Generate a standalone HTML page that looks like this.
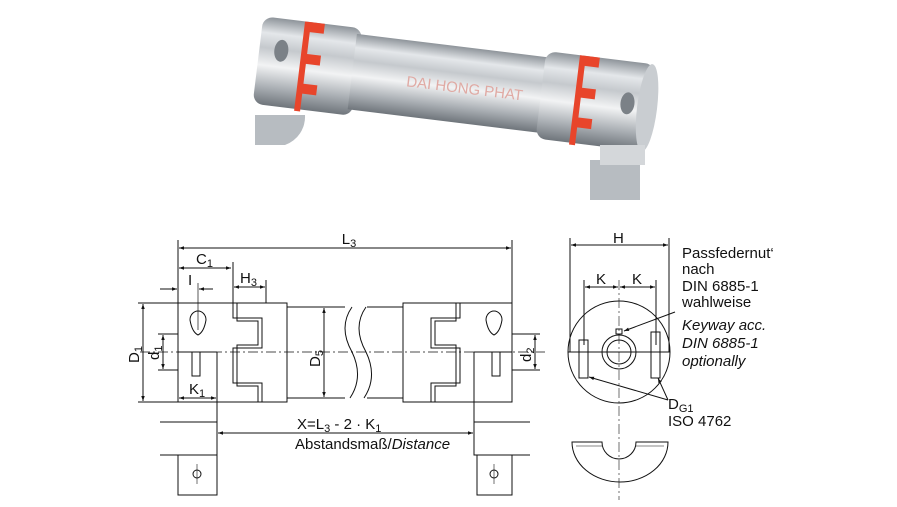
<!DOCTYPE html>
<html><head><meta charset="utf-8"><style>
html,body{margin:0;padding:0;background:#fff;}
svg{display:block;}
text{font-family:"Liberation Sans",sans-serif;fill:#111;}
</style></head><body>
<svg width="897" height="507" viewBox="0 0 897 507" xmlns="http://www.w3.org/2000/svg">
<defs>
<linearGradient id="met" x1="0" y1="0" x2="0" y2="1">
<stop offset="0" stop-color="#8e949a"/><stop offset="0.18" stop-color="#e4e7ea"/><stop offset="0.35" stop-color="#c5c9cd"/><stop offset="0.55" stop-color="#f2f3f4"/><stop offset="0.8" stop-color="#a9aeb3"/><stop offset="1" stop-color="#6f757b"/>
</linearGradient>
<marker id="a" viewBox="0 0 10 10" refX="10" refY="5" markerWidth="7" markerHeight="5" orient="auto-start-reverse"><path d="M0,1.5 L10,5 L0,8.5z" fill="#111"/></marker>
</defs>

<!-- photo -->
<g transform="translate(258,60) rotate(7)">
<rect x="0" y="-44" width="100" height="88" rx="10" fill="url(#met)"/>
<rect x="95" y="-38" width="200" height="76" fill="url(#met)"/>
<rect x="285" y="-44" width="110" height="88" rx="10" fill="url(#met)"/>
<ellipse cx="392" cy="0" rx="10" ry="44" fill="#c9cdd1"/>
<ellipse cx="22" cy="-12" rx="7" ry="11" fill="#7b8187"/>
<ellipse cx="372" cy="-2" rx="7" ry="11" fill="#7b8187"/>
<path d="M48,-44 h14 v10 h-14 v22 h14 v10 h-14 v20 h14 v10 h-14 v18 h-6 v-90z" fill="#e8452b"/>
<path d="M325,-44 h14 v10 h-14 v22 h14 v10 h-14 v20 h14 v10 h-14 v18 h-6 v-90z" fill="#e8452b"/>
<text x="150" y="8" font-size="15" style="fill:#e0aaa4">DAI HONG PHAT</text>
</g>
<path d="M255,115 h50 a30,30 0 0 1 -20,30 h-30z" fill="#b7bcc1"/>
<path d="M590,160 h50 v40 h-50z" fill="#b7bcc1"/>
<rect x="600" y="145" width="45" height="20" fill="#d4d7da"/>

<g fill="none" stroke="#111" stroke-width="1">
<rect x="178" y="303" width="109" height="99"/>
<rect x="403" y="303" width="109" height="99"/>
<line x1="287" y1="307" x2="345" y2="307"/><line x1="287" y1="398" x2="345" y2="398"/>
<line x1="367" y1="307" x2="403" y2="307"/><line x1="367" y1="398" x2="403" y2="398"/>
<path d="M352,307 q-14,20 0,45 q12,25 -2,46"/>
<path d="M366,307 q-14,20 0,45 q12,25 -2,46"/>
<path d="M233,303 v15 h29 v30 h-29 v35 h29 v19"/>
<path d="M237,303 v18 h21 v24 h-21 v41 h21 v16"/>
<path d="M460,303 v15 h-29 v30 h29 v35 h-29 v19"/>
<path d="M456,303 v18 h-21 v24 h21 v41 h-21 v16"/>
<path d="M190,320 a8,9 0 0 1 16,0 q-2,12 -8,15 q-6,-3 -8,-15z"/>
<path d="M486,320 a8,9 0 0 1 16,0 q-2,12 -8,15 q-6,-3 -8,-15z"/>
<rect x="192" y="352" width="8" height="24"/><rect x="492" y="352" width="8" height="24"/>
<line x1="178" y1="352" x2="217" y2="352"/><line x1="217" y1="352" x2="217" y2="402"/>
<line x1="474" y1="352" x2="512" y2="352"/><line x1="474" y1="352" x2="474" y2="402"/>
<line x1="140" y1="352" x2="545" y2="352" stroke-dasharray="10,3,2,3" stroke-width="0.7"/>
<line x1="178" y1="240" x2="178" y2="303"/><line x1="512" y1="240" x2="512" y2="303"/>
<line x1="179" y1="248" x2="511" y2="248" marker-start="url(#a)" marker-end="url(#a)"/>
<line x1="179" y1="268" x2="231" y2="268" marker-start="url(#a)" marker-end="url(#a)"/>
<line x1="233" y1="262" x2="233" y2="303"/><line x1="266" y1="280" x2="266" y2="303"/>
<line x1="234" y1="287" x2="265" y2="287" marker-start="url(#a)" marker-end="url(#a)"/>
<line x1="160" y1="289" x2="177" y2="289" marker-end="url(#a)"/><line x1="199" y1="289" x2="213" y2="289" marker-start="url(#a)"/>
<line x1="198" y1="283" x2="198" y2="330" stroke-width="0.7"/>
<line x1="138" y1="303" x2="178" y2="303"/><line x1="138" y1="402" x2="178" y2="402"/>
<line x1="143" y1="304" x2="143" y2="401" marker-start="url(#a)" marker-end="url(#a)"/>
<line x1="158" y1="334" x2="178" y2="334"/><line x1="158" y1="370" x2="178" y2="370"/>
<line x1="163" y1="335" x2="163" y2="369" marker-start="url(#a)" marker-end="url(#a)"/>
<line x1="179" y1="398" x2="216" y2="398" marker-start="url(#a)" marker-end="url(#a)"/>
<line x1="324" y1="308" x2="324" y2="397" marker-start="url(#a)" marker-end="url(#a)"/>
<line x1="512" y1="334" x2="540" y2="334"/><line x1="512" y1="370" x2="540" y2="370"/>
<line x1="535" y1="335" x2="535" y2="369" marker-start="url(#a)" marker-end="url(#a)"/>
<line x1="217" y1="402" x2="217" y2="445"/><line x1="474" y1="402" x2="474" y2="445"/>
<line x1="218" y1="433" x2="473" y2="433" marker-start="url(#a)" marker-end="url(#a)"/>
<path d="M160,422 h57 v33 h-57"/><rect x="178" y="455" width="39" height="40"/>
<circle cx="197" cy="474" r="4"/><line x1="197" y1="464" x2="197" y2="484" stroke-width="0.6"/>
<path d="M530,422 h-56 v33 h56"/><rect x="477" y="455" width="35" height="40"/>
<circle cx="494" cy="474" r="4"/><line x1="494" y1="464" x2="494" y2="484" stroke-width="0.6"/>
<circle cx="619" cy="352" r="51"/>
<circle cx="619" cy="352" r="17"/><circle cx="619" cy="352" r="12"/>
<line x1="568" y1="352" x2="670" y2="352"/>
<line x1="619" y1="280" x2="619" y2="500" stroke-dasharray="10,3,2,3" stroke-width="0.6"/>
<line x1="570" y1="238" x2="570" y2="352"/><line x1="669" y1="238" x2="669" y2="352"/>
<line x1="571" y1="245" x2="668" y2="245" marker-start="url(#a)" marker-end="url(#a)"/>
<line x1="584" y1="280" x2="584" y2="345"/><line x1="656" y1="280" x2="656" y2="345"/>
<line x1="585" y1="287" x2="618" y2="287" marker-start="url(#a)" marker-end="url(#a)"/>
<line x1="620" y1="287" x2="655" y2="287" marker-start="url(#a)" marker-end="url(#a)"/>
<rect x="579" y="340" width="9" height="38"/><rect x="651" y="332" width="9" height="46"/>
<rect x="616" y="329" width="6" height="5"/>
<line x1="675" y1="312" x2="624" y2="331" marker-end="url(#a)"/>
<line x1="668" y1="400" x2="589" y2="377" marker-end="url(#a)"/>
<line x1="668" y1="400" x2="658" y2="378" marker-end="url(#a)"/>
<path d="M572,442 h30 a17,17 0 0 0 34,0 h32 a48,40 0 0 1 -96,0z"/>
<path d="M576,446 h26 M636,446 h28" stroke-width="0.6"/>
</g>
<g font-size="15">
<text x="349" y="244" text-anchor="middle">L<tspan font-size="11" dy="3">3</tspan></text>
<text x="196" y="264">C<tspan font-size="11" dy="3">1</tspan></text>
<text x="240" y="283">H<tspan font-size="11" dy="3">3</tspan></text>
<text x="188" y="285">I</text>
<text x="189" y="394">K<tspan font-size="11" dy="3">1</tspan></text>
<text transform="translate(139,363) rotate(-90)">D<tspan font-size="11" dy="3">1</tspan></text>
<text transform="translate(159,360) rotate(-90)">d<tspan font-size="11" dy="3">1</tspan></text>
<text transform="translate(320,367) rotate(-90)">D<tspan font-size="11" dy="3">5</tspan></text>
<text transform="translate(531,362) rotate(-90)">d<tspan font-size="11" dy="3">2</tspan></text>
<text x="297" y="429">X=L<tspan font-size="11" dy="3">3</tspan><tspan dy="-3"> - 2 · K</tspan><tspan font-size="11" dy="3">1</tspan></text>
<text x="295" y="449">Abstandsmaß/<tspan font-style="italic">Distance</tspan></text>
<text x="613" y="243">H</text>
<text x="596" y="284">K</text><text x="632" y="284">K</text>
<text x="682" y="258">Passfedernut‘</text>
<text x="682" y="274">nach</text>
<text x="682" y="291">DIN 6885-1</text>
<text x="682" y="307">wahlweise</text>
<g font-style="italic"><text x="682" y="330">Keyway acc.</text>
<text x="682" y="348">DIN 6885-1</text>
<text x="682" y="366">optionally</text></g>
<text x="668" y="409">D<tspan font-size="11" dy="3">G1</tspan></text>
<text x="668" y="426">ISO 4762</text>
</g>
</svg>
</body></html>
